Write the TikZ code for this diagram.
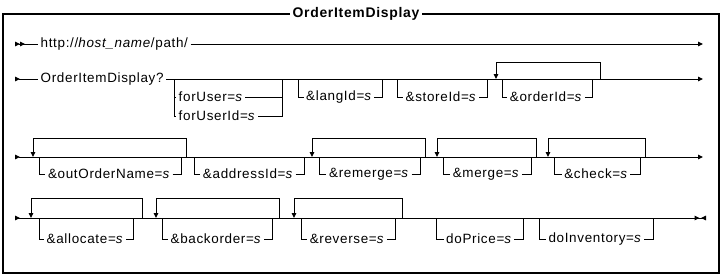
\documentclass[tikz,border=0pt]{standalone}
\usepackage{fontspec}
\setmainfont{Liberation Sans}[LetterSpace=5]
\usetikzlibrary{arrows.meta}

\begin{document}
\begin{tikzpicture}[
  x=1bp, y=-1bp,
  >={Triangle[length=5bp,width=4.5bp]},
  rail/.style  = {line width=1bp},
  item/.style  = {inner xsep=2.5bp, inner ysep=1bp, font=\fontsize{13.5}{15}\selectfont},
  title/.style = {fill=white, inner xsep=3bp, font=\fontsize{14}{16}\selectfont\bfseries},
  stopmark/.style = {-{Triangle[length=5bp,width=4.5bp,sep=1.5bp]Triangle[length=5bp,width=4.5bp,reversed]}}
]
  \useasboundingbox (0,0) rectangle (721,275);

  % Frame and title
  \draw[line width=1.2bp] (3,14) rectangle (719,273);
  \node[title] (ttl) at (356,14) {OrderItemDisplay};

  % Row 1
  \coordinate (s1) at (15,44);
  \coordinate (e1) at (703,44);
  \node[item, anchor=west] (url) at (38,44) {http://\textit{host\_name}/path/};
  \draw[rail, >>-] (s1) -- (url);
  \draw[rail, ->] (url) -- (e1);

  % Row 2
  \coordinate (s2) at (15,79);
  \coordinate (e2) at (703,79);
  \node[item, anchor=west] (cmd) at (38,79) {OrderItemDisplay?};
  \draw[rail, >-] (s2) -- (cmd);
  \draw[rail, ->] (cmd) -- (e2);

  % forUser choice
  \coordinate (fu1) at (174,79); \coordinate (fu2) at (282,79);
  \node[item, anchor=west] (foruser)   at (176,97)  {forUser=\textit{s}};
  \node[item, anchor=west] (foruserid) at (176,116) {forUserId=\textit{s}};
  \draw[rail] (fu1) |- (foruserid) -| (fu2);
  \draw[rail] (fu1 |- foruser) -- (foruser);
  \draw[rail] (foruser) -- (foruser -| fu2);

  % optional parameters
  \coordinate (la1) at (298,79); \coordinate (la2) at (382,79);
  \node[item] (langid) at (339,97) {\&langId=\textit{s}};
  \draw[rail] (la1) |- (langid) -| (la2);

  \coordinate (st1) at (397,79); \coordinate (st2) at (487,79);
  \node[item] (storeid) at (441,97) {\&storeId=\textit{s}};
  \draw[rail] (st1) |- (storeid) -| (st2);

  \coordinate (oi1) at (502,79); \coordinate (oi2) at (592,79);
  \coordinate (oi3) at (496,79); \coordinate (oi4) at (600,79);
  \node[item] (orderid) at (546,97) {\&orderId=\textit{s}};
  \draw[rail] (oi1) |- (orderid) -| (oi2);
  \draw[rail, ->] (oi4) -- ++(0,-17) -| (oi3);

  % Row 3
  \coordinate (s3) at (15,157);
  \coordinate (e3) at (703,157);
  \draw[rail, >->] (s3) -- (e3);

  \coordinate (on1) at (39,157); \coordinate (on2) at (181,157);
  \coordinate (on3) at (33,157); \coordinate (on4) at (186,157);
  \node[item] (outname) at (109,174) {\&outOrderName=\textit{s}};
  \draw[rail] (on1) |- (outname) -| (on2);
  \draw[rail, ->] (on4) -- ++(0,-19) -| (on3);

  \coordinate (ad1) at (194,157); \coordinate (ad2) at (304,157);
  \node[item] (addressid) at (248,174) {\&addressId=\textit{s}};
  \draw[rail] (ad1) |- (addressid) -| (ad2);

  \coordinate (rm1) at (319,157); \coordinate (rm2) at (420,157);
  \coordinate (rm3) at (312,157); \coordinate (rm4) at (425,157);
  \node[item] (remerge) at (369,174) {\&remerge=\textit{s}};
  \draw[rail] (rm1) |- (remerge) -| (rm2);
  \draw[rail, ->] (rm4) -- ++(0,-19) -| (rm3);

  \coordinate (mg1) at (443,157); \coordinate (mg2) at (531,157);
  \coordinate (mg3) at (437,157); \coordinate (mg4) at (536,157);
  \node[item] (merge) at (486,174) {\&merge=\textit{s}};
  \draw[rail] (mg1) |- (merge) -| (mg2);
  \draw[rail, ->] (mg4) -- ++(0,-19) -| (mg3);

  \coordinate (ck1) at (554,157); \coordinate (ck2) at (640,157);
  \coordinate (ck3) at (548,157); \coordinate (ck4) at (645,157);
  \node[item] (check) at (596,174) {\&check=\textit{s}};
  \draw[rail] (ck1) |- (check) -| (ck2);
  \draw[rail, ->] (ck4) -- ++(0,-19) -| (ck3);

  % Row 4
  \coordinate (s4) at (15,218);
  \coordinate (e4) at (706,218);
  \draw[rail, >-] (s4) -- (e4);
  \draw[rail, stopmark] (s4) -- (e4);

  \coordinate (al1) at (39,218); \coordinate (al2) at (133,218);
  \coordinate (al3) at (31,218); \coordinate (al4) at (142,218);
  \node[item] (allocate) at (85,239) {\&allocate=\textit{s}};
  \draw[rail] (al1) |- (allocate) -| (al2);
  \draw[rail, ->] (al4) -- ++(0,-20) -| (al3);

  \coordinate (bo1) at (162,218); \coordinate (bo2) at (272,218);
  \coordinate (bo3) at (156,218); \coordinate (bo4) at (279,218);
  \node[item] (backorder) at (216,239) {\&backorder=\textit{s}};
  \draw[rail] (bo1) |- (backorder) -| (bo2);
  \draw[rail, ->] (bo4) -- ++(0,-20) -| (bo3);

  \coordinate (rv1) at (301,218); \coordinate (rv2) at (395,218);
  \coordinate (rv3) at (294,218); \coordinate (rv4) at (402,218);
  \node[item] (reverse) at (347,239) {\&reverse=\textit{s}};
  \draw[rail] (rv1) |- (reverse) -| (rv2);
  \draw[rail, ->] (rv4) -- ++(0,-20) -| (rv3);

  \coordinate (dp1) at (436,218); \coordinate (dp2) at (523,218);
  \node[item] (doprice) at (479,239) {doPrice=\textit{s}};
  \draw[rail] (dp1) |- (doprice) -| (dp2);

  \coordinate (dv1) at (539,218); \coordinate (dv2) at (653,218);
  \node[item] (doinv) at (595,239) {doInventory=\textit{s}};
  \draw[rail] (dv1) |- (doinv) -| (dv2);

\end{tikzpicture}
\end{document}
